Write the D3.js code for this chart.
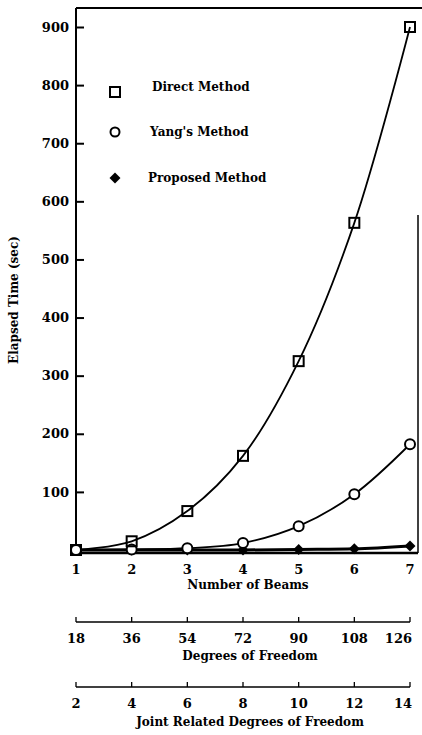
<!DOCTYPE html>
<html>
<head>
<meta charset="utf-8">
<script src="https://cdn.jsdelivr.net/npm/d3@7"></script>
<style>
  body { margin: 0; background: #fff; }
  text { font-family: 'DejaVu Serif', 'Liberation Serif', serif; font-weight: bold; fill: #000; }
</style>
</head>
<body>
<svg id="chart"></svg>
<script>
// ------------------ data -----------------------------------------

let beams = [1, 2, 3, 4, 5, 6, 7];
let directMethod = [0, 15, 67, 162, 325, 563, 900];
let yangsMethod = [0, 1, 3, 12, 41, 96, 182];
let proposedMethod = [0, 0, 0, 0, 1, 2, 7];

let yTicks = [100, 200, 300, 400, 500, 600, 700, 800, 900];
let dofLabels = [18, 36, 54, 72, 90, 108, 126];
let jointDofLabels = [2, 4, 6, 8, 10, 12, 14];

let legendNames = ['Direct Method', "Yang's Method", 'Proposed Method'];

// ------------------ svg + scales ---------------------

let svgWidth = 422;
let svgHeight = 735;

let svg = d3.select('#chart')
    .attr('width', svgWidth)
    .attr('height', svgHeight);

let xScale = d3.scaleLinear()
    .domain([1, 7])
    .range([76, 410]);

let yScale = d3.scaleLinear()
    .domain([0, 900])
    .range([550, 27]);

let axisY = 553; // bottom line of the plot
let topY = 8;
let rightX = 418;

// ------------------ frame ---------------------

svg.append('line') // left axis
    .attr('x1', 76).attr('x2', 76)
    .attr('y1', topY).attr('y2', axisY)
    .attr('stroke', '#000').attr('stroke-width', 2);

svg.append('line') // top border
    .attr('x1', 76).attr('x2', svgWidth)
    .attr('y1', topY).attr('y2', topY)
    .attr('stroke', '#000').attr('stroke-width', 2);

svg.append('line') // right border, faint at the top
    .attr('x1', rightX).attr('x2', rightX)
    .attr('y1', 215).attr('y2', axisY)
    .attr('stroke', '#000').attr('stroke-width', 1.5);

svg.append('line') // bottom axis
    .attr('x1', 76).attr('x2', rightX)
    .attr('y1', axisY).attr('y2', axisY)
    .attr('stroke', '#000').attr('stroke-width', 2.5);

// y axis with inward ticks
let y_axis = d3.axisRight(yScale)
    .tickValues(yTicks)
    .tickSize(8)
    .tickFormat(d3.format('d'));

let yAxisG = svg.append('g')
    .attr('transform', 'translate(76,0)')
    .call(y_axis);

yAxisG.select('.domain').remove();
yAxisG.selectAll('line').attr('stroke', '#000').attr('stroke-width', 2);
yAxisG.selectAll('text')
    .attr('x', -7)
    .attr('text-anchor', 'end')
    .style('font-size', '13px')
    .style('font-family', "'DejaVu Serif', serif")
    .style('font-weight', 'bold');

svg.append('text')
    .attr('transform', 'translate(18,300) rotate(-90)')
    .attr('text-anchor', 'middle')
    .style('font-size', '12px')
    .text('Elapsed Time (sec)');

// ------------------ curves ---------------------

let line = d3.line()
    .x(function(d, i) { return xScale(beams[i]); })
    .y(function(d) { return yScale(d); })
    .curve(d3.curveCatmullRom);

svg.append('path')
    .attr('d', line(proposedMethod))
    .attr('fill', 'none').attr('stroke', '#000').attr('stroke-width', 3);

svg.append('path')
    .attr('d', line(yangsMethod))
    .attr('fill', 'none').attr('stroke', '#000').attr('stroke-width', 1.8);

svg.append('path')
    .attr('d', line(directMethod))
    .attr('fill', 'none').attr('stroke', '#000').attr('stroke-width', 1.8);

// ------------------ markers ---------------------

// square diamond: a square symbol turned 45 degrees
let diamond = d3.symbol().type(d3.symbolSquare).size(60);

svg.selectAll('.diamond')
    .data(proposedMethod)
    .enter()
    .append('path')
    .attr('class', 'diamond')
    .attr('d', diamond)
    .attr('transform', function(d, i) {
        return 'translate(' + xScale(beams[i]) + ',' + yScale(d) + ') rotate(45)';
    })
    .attr('fill', '#000');

svg.selectAll('.circle')
    .data(yangsMethod)
    .enter()
    .append('circle')
    .attr('class', 'circle')
    .attr('cx', function(d, i) { return xScale(beams[i]); })
    .attr('cy', function(d) { return yScale(d); })
    .attr('r', 5)
    .attr('fill', '#fff')
    .attr('stroke', '#000').attr('stroke-width', 2);

svg.selectAll('.square')
    .data(directMethod)
    .enter()
    .append('rect')
    .attr('class', 'square')
    .attr('x', function(d, i) { return xScale(beams[i]) - 5; })
    .attr('y', function(d) { return yScale(d) - 5; })
    .attr('width', 10).attr('height', 10)
    .attr('fill', 'none')
    .attr('stroke', '#000').attr('stroke-width', 2);

// ------------------ legend ---------------------

let legendY = [87, 132, 178];

let legend = svg.selectAll('.legend')
    .data(legendNames)
    .enter()
    .append('g')
    .attr('class', 'legend')
    .attr('transform', function(d, i) { return 'translate(115,' + legendY[i] + ')'; });

legend.append('text')
    .attr('x', function(d, i) { return [37, 35, 33][i]; })
    .attr('y', 4)
    .style('font-size', '12px')
    .text(function(d) { return d; });

legend.filter(function(d, i) { return i == 0; })
    .append('rect')
    .attr('x', -5).attr('y', 0).attr('width', 10).attr('height', 10)
    .attr('fill', 'none').attr('stroke', '#000').attr('stroke-width', 2);

legend.filter(function(d, i) { return i == 1; })
    .append('circle')
    .attr('r', 4.5)
    .attr('fill', '#fff').attr('stroke', '#000').attr('stroke-width', 2);

legend.filter(function(d, i) { return i == 2; })
    .append('path')
    .attr('d', diamond)
    .attr('transform', 'rotate(45)')
    .attr('fill', '#000');

// ------------------ x axes (three label rows) ---------------------

svg.selectAll('.beamLabel')
    .data(beams)
    .enter()
    .append('text')
    .attr('class', 'beamLabel')
    .attr('x', function(d) { return xScale(d); })
    .attr('y', 574)
    .attr('text-anchor', 'middle')
    .style('font-size', '13px')
    .text(function(d) { return d; });

svg.append('text')
    .attr('x', 248).attr('y', 589)
    .attr('text-anchor', 'middle')
    .style('font-size', '12px')
    .text('Number of Beams');

// helper for the secondary axes: line with small upward ticks
function secondaryAxis(lineY, labels, title, titleY) {
    svg.append('line')
        .attr('x1', xScale(1)).attr('x2', xScale(7))
        .attr('y1', lineY).attr('y2', lineY)
        .attr('stroke', '#000').attr('stroke-width', 1.3);

    svg.selectAll(null)
        .data(beams)
        .enter()
        .append('line')
        .attr('x1', function(d) { return xScale(d); })
        .attr('x2', function(d) { return xScale(d); })
        .attr('y1', lineY).attr('y2', lineY - 5)
        .attr('stroke', '#000').attr('stroke-width', 1.3);

    // last label is right-aligned to the end of the line so it stays inside
    svg.selectAll(null)
        .data(labels)
        .enter()
        .append('text')
        .attr('x', function(d, i) { return i == labels.length - 1 ? xScale(beams[i]) + 2 : xScale(beams[i]); })
        .attr('y', lineY + 21)
        .attr('text-anchor', function(d, i) { return i == labels.length - 1 ? 'end' : 'middle'; })
        .style('font-size', '13px')
        .text(function(d) { return d; });

    svg.append('text')
        .attr('x', 250).attr('y', titleY)
        .attr('text-anchor', 'middle')
        .style('font-size', '12px')
        .text(title);
}

secondaryAxis(622, dofLabels, 'Degrees of Freedom', 660);
secondaryAxis(687, jointDofLabels, 'Joint Related Degrees of Freedom', 726);
</script>
</body>
</html>
